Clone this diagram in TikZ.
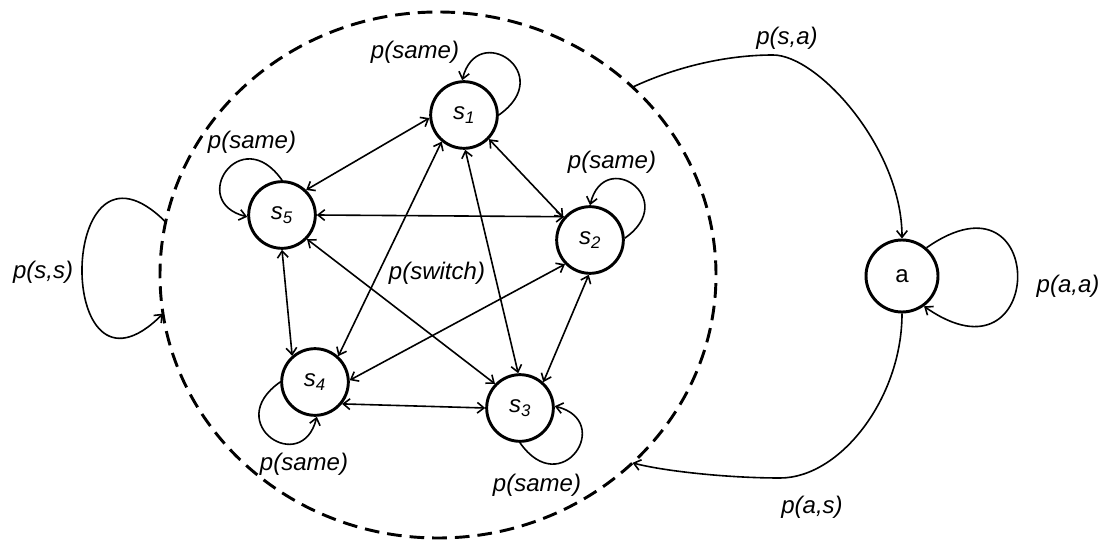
\documentclass[tikz,border=0pt]{standalone}
\usepackage{fontspec}
\setmainfont{Liberation Sans}
\usetikzlibrary{arrows.meta,shapes.geometric}
\begin{document}
\begin{tikzpicture}[x=0.75pt,y=0.75pt,
  state/.style={circle,draw,line width=2.2pt,minimum size=50pt,inner sep=0pt,font=\fontsize{18}{20}\selectfont\itshape},
  anode/.style={circle,draw,line width=2.2pt,minimum size=54pt,inner sep=0pt,font=\fontsize{18}{20}\selectfont},
  lbl/.style={font=\fontsize{18}{20}\selectfont\itshape,inner sep=0pt},
  biedge/.style={line width=1.2pt,{Straight Barb[length=5pt,width=8pt]}-{Straight Barb[length=5pt,width=8pt]}},
  oneway/.style={line width=1.2pt,-{Straight Barb[length=5pt,width=8pt]}},
  group/.style={ellipse,draw,line width=2.2pt,dash pattern=on 11pt off 6pt,minimum width=417pt,minimum height=394.5pt,inner sep=0pt,outer sep=0pt}
]
\useasboundingbox (0,0) rectangle (1109,-541);

\node[group] (S) at (438,-275) {};

\node[state] (s1) at (464,-115) {s\textsubscript{1}};
\node[state] (s5) at (282,-215) {s\textsubscript{5}};
\node[state] (s2) at (590,-240) {s\textsubscript{2}};
\node[state] (s4) at (315,-382) {s\textsubscript{4}};
\node[state] (s3) at (520,-408) {s\textsubscript{3}};
\node[anode] (a) at (902,-276) {a};

% edges between states
\draw[biedge] (s1.185) -- (s5.46);
\draw[biedge] (s1.-44) -- (s2.140);
\draw[biedge] (s1.-88) -- (s3.93);
\draw[biedge] (s1.-130) -- (s4.48);
\draw[biedge] (s5.0) -- (s2.138);
\draw[biedge] (s5.-90) -- (s4.131);
\draw[biedge] (s5.-44) -- (s3.136);
\draw[biedge] (s2.-136) -- (s4.3);
\draw[biedge] (s2.-92) -- (s3.48);
\draw[biedge] (s4.-39) -- (s3.180);

% self loops
\draw[oneway] (s1.0) .. controls +(35:72) and +(76:62) .. (s1.93);
\draw[oneway] (s2.3) .. controls +(35:68) and +(76:60) .. (s2.90);
\draw[oneway] (s5.90) .. controls +(125:72) and +(166:62) .. (s5.183);
\draw[oneway] (s4.180) .. controls +(215:72) and +(256:62) .. (s4.273);
\draw[oneway] (s3.-90) .. controls +(-55:72) and +(-14:62) .. (s3.3);
\draw[oneway] (a.49) .. controls +(35:150) and +(-35:150) .. (a.-54);

% group connectors
\coordinate (sapeak) at (773,-55);
\coordinate (aslow) at (780,-478);
\draw[oneway] (S.169.2) .. controls +(135:155) and +(225:155) .. (S.188.7);
\draw[oneway] (S.44.3) .. controls +(25:50) and +(180:45) .. (sapeak)
  .. controls +(0:45) and +(90:90) .. (a.north);
\draw[oneway] (a.south) .. controls +(-90:85) and +(0:60) .. (aslow)
  .. controls +(180:55) and +(-15:30) .. (S.-44.6);

% labels
\node[lbl] (lss) at (43,-272) {p(s,s)};
\node[lbl] (lsa) at (787,-38) {p(s,a)};
\node[lbl] (laa) at (1068,-286) {p(a,a)};
\node[lbl] (las) at (812,-507) {p(a,s)};
\node[lbl] (lsw) at (437,-273) {p(switch)};
\node[lbl] (l1) at (415,-52) {p(same)};
\node[lbl] (l5) at (252,-142) {p(same)};
\node[lbl] (l2) at (612,-162) {p(same)};
\node[lbl] (l4) at (304,-464) {p(same)};
\node[lbl] (l3) at (537,-485) {p(same)};
\end{tikzpicture}
\end{document}
